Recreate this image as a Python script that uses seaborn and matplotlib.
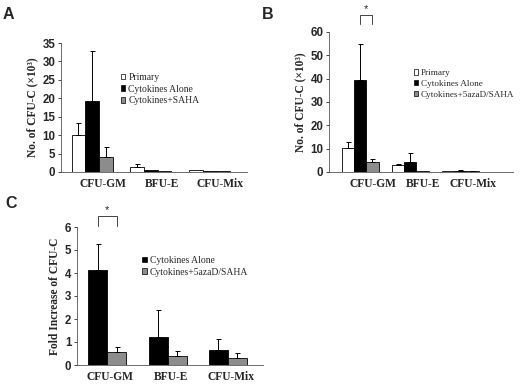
import matplotlib
matplotlib.use("Agg")
import matplotlib.pyplot as plt
import matplotlib.transforms as mtrans
from matplotlib.patches import Patch
import seaborn as sns
import pandas as pd
import numpy as np

sns.set_style("ticks")
plt.rcParams['font.family'] = ['Liberation Serif', 'DejaVu Serif']

categories = ["CFU-GM", "BFU-E", "CFU-Mix"]

# Panel A
a_groups = ["Primary", "Cytokines Alone", "Cytokines+SAHA"]
a_primary = [10.0, 1.4, 0.6]
a_alone = [19.3, 0.6, 0.3]
a_saha = [4.1, 0.3, 0.15]
a_primary_err = [3.2, 0.9, 0.0]
a_alone_err = [13.5, 0.0, 0.0]
a_saha_err = [2.8, 0.0, 0.0]

# Panel B
b_groups = ["Primary", "Cytokines Alone", "Cytokines+5azaD/SAHA"]
b_primary = [10.5, 3.0, 0.5]
b_alone = [39.3, 4.5, 0.5]
b_aza = [4.2, 0.5, 0.3]
b_primary_err = [2.5, 0.5, 0.0]
b_alone_err = [15.7, 3.5, 0.2]
b_aza_err = [1.3, 0.0, 0.2]

# Panel C
c_groups = ["Cytokines Alone", "Cytokines+5azaD/SAHA"]
c_alone = [4.12, 1.22, 0.67]
c_aza = [0.57, 0.38, 0.30]
c_alone_err = [1.13, 1.18, 0.45]
c_aza_err = [0.23, 0.25, 0.23]

W, H = 520, 387
fig = plt.figure(figsize=(W / 100, H / 100), dpi=100)


def add_ax(l, r, t, b):
    return fig.add_axes([l / W, (H - b) / H, (r - l) / W, (b - t) / H])


def panel(ax, groups, values, errs, colors, width, xlim, ylim, yticks,
          ylabel, label_dx, legend_pos, leg_fs, ylab_fs):
    rows = []
    for g, vals in zip(groups, values):
        for c, v in zip(categories, vals):
            rows.append({"cat": c, "grp": g, "val": v})
    df = pd.DataFrame(rows)
    sns.barplot(data=df, x="cat", y="val", hue="grp", order=categories,
                hue_order=groups, palette=colors, width=width,
                edgecolor="black", linewidth=0.6, errorbar=None, ax=ax,
                legend=False, saturation=1)
    patches = [p for p in ax.patches]
    n = len(categories)
    centers = {}
    for gi, g in enumerate(groups):
        for ci in range(n):
            p = patches[gi * n + ci]
            x = p.get_x() + p.get_width() / 2
            h = p.get_height()
            centers[(gi, ci)] = (x, h)
            e = errs[gi][ci]
            if e > 0:
                ax.errorbar(x, h, yerr=[[0], [e]], fmt="none", ecolor="black",
                            elinewidth=0.7, capsize=1.8, capthick=0.7)
    ax.set_xlim(*xlim)
    ax.set_ylim(*ylim)
    ax.set_yticks(yticks)
    ax.set_xlabel("")
    ax.set_ylabel(ylabel, fontsize=ylab_fs, fontweight="bold", labelpad=3)
    for s in ["top", "right"]:
        ax.spines[s].set_visible(False)
    for s in ["left", "bottom"]:
        ax.spines[s].set_linewidth(0.6)
        ax.spines[s].set_color("#555555")
    ax.tick_params(axis="y", length=2, width=0.6, pad=2, labelsize=8.3)
    ax.tick_params(axis="x", length=0, pad=4)
    for t in ax.get_yticklabels():
        t.set_fontfamily("Liberation Sans")
        t.set_fontweight("bold")
    for t in ax.get_xticklabels():
        t.set_fontsize(8.3)
        t.set_fontweight("bold")
        t.set_transform(t.get_transform() +
                        mtrans.ScaledTranslation(label_dx / 100, 0, fig.dpi_scale_trans))
    handles = [Patch(facecolor=c, edgecolor="black", linewidth=0.5) for c in colors]
    ax.legend(handles, groups, loc="upper left", bbox_to_anchor=legend_pos,
              frameon=False, fontsize=leg_fs, handlelength=0.5, handleheight=0.5,
              handletextpad=0.3, labelspacing=0.3, borderaxespad=0)
    return centers


def bracket(ax, x0, x1, ylow, ytop):
    ax.plot([x0, x0, x1, x1], [ylow, ytop, ytop, ylow], color="#444444",
            lw=0.7, clip_on=False)
    ax.text((x0 + x1) / 2, ytop, "*", ha="center", va="bottom", fontsize=8,
            fontfamily="Liberation Sans", clip_on=False)


# Panel A
axA = add_ax(61, 247, 43, 172)
panel(axA, a_groups, [a_primary, a_alone, a_saha],
      [a_primary_err, a_alone_err, a_saha_err],
      ["white", "black", "#8c8c8c"], 0.7, (-0.53, 2.64), (0, 35),
      np.arange(0, 36, 5), "No. of CFU-C (×10³)", 11, (0.3, 0.8), 6.9, 8.3)

# Panel B
axB = add_ax(329, 513, 32, 172)
cB = panel(axB, b_groups, [b_primary, b_alone, b_aza],
           [b_primary_err, b_alone_err, b_aza_err],
           ["white", "black", "#8c8c8c"], 0.74, (-0.62, 3.06), (0, 60),
           np.arange(0, 61, 10), "No. of CFU-C (×10³)", 13, (0.44, 0.76), 6.6, 8.3)
bracket(axB, cB[(1, 0)][0], cB[(2, 0)][0], 63.5, 67.5)

# Panel C
axC = add_ax(77, 263, 227, 365)
cC = panel(axC, c_groups, [c_alone, c_aza], [c_alone_err, c_aza_err],
           ["black", "#8c8c8c"], 0.63, (-0.5, 2.58), (0, 6),
           np.arange(0, 7, 1), "Fold Increase of CFU-C", 3, (0.33, 0.82), 6.9, 8.3)
bracket(axC, cC[(0, 0)][0], cC[(1, 0)][0], 6.05, 6.5)

for lbl, x, y in [("A", 3, 7), ("B", 262, 7), ("C", 5, 196)]:
    fig.text(x / W, 1 - y / H, lbl, ha="left", va="top", fontsize=11.5,
             fontweight="bold", fontfamily="Liberation Sans")

fig.savefig("out.png", dpi=100)
